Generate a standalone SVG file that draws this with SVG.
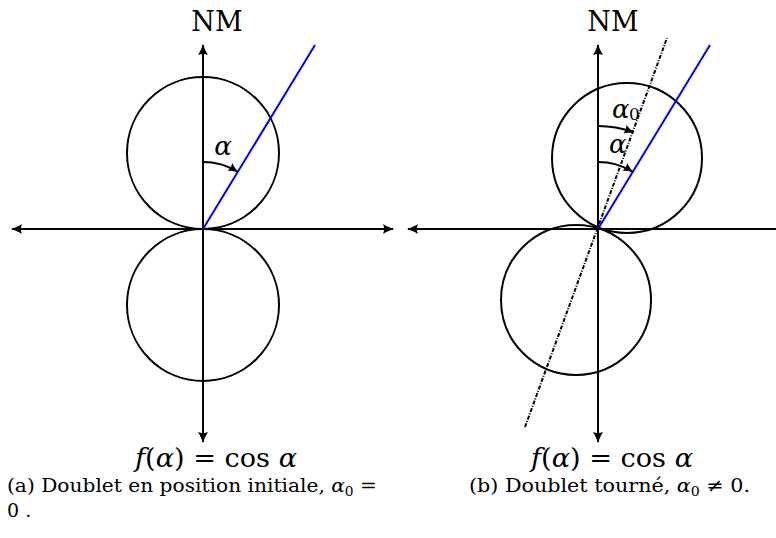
<svg xmlns="http://www.w3.org/2000/svg" width="776" height="538" viewBox="0 0 776 538">
<style>
.ax{stroke:#000;stroke-width:2;fill:none}
.circ{stroke:#000;stroke-width:2;fill:none}
.blue{stroke:#0000ee;stroke-width:2;fill:none}
.dd{stroke:#000;stroke-width:2;fill:none;stroke-dasharray:4 1.5 1 1.5}
.arc{stroke:#000;stroke-width:2;fill:none}
text{font-family:"DejaVu Serif","Liberation Serif",serif;fill:#000}
.it{font-style:italic}
</style>
<defs>
<marker id="ah" viewBox="0 -5 11 10" refX="10" refY="0" markerWidth="11" markerHeight="10" markerUnits="userSpaceOnUse" orient="auto-start-reverse">
<path d="M11,0 C7,-1.2 3,-3 0,-5 C1.5,-2 1.5,2 0,5 C3,3 7,1.2 11,0 Z" fill="#000"/>
</marker>
<marker id="sh" viewBox="0 -4.5 10 9" refX="9" refY="0" markerWidth="10" markerHeight="9" markerUnits="userSpaceOnUse" orient="auto">
<path d="M10,0 C6.5,-1 3,-2.8 0,-4.5 C1.3,-1.5 1.3,1.5 0,4.5 C3,2.8 6.5,1 10,0 Z" fill="#000"/>
</marker>
</defs>

<g id="connectors">
<line class="ax" x1="12" y1="229" x2="393" y2="229" marker-start="url(#ah)" marker-end="url(#ah)"/>
<line class="ax" x1="203" y1="45" x2="203" y2="442" marker-start="url(#ah)" marker-end="url(#ah)"/>
<line class="ax" x1="408" y1="229" x2="786" y2="229" marker-start="url(#ah)" marker-end="url(#ah)"/>
<line class="ax" x1="598" y1="45" x2="598" y2="442" marker-start="url(#ah)" marker-end="url(#ah)"/>
</g>

<g id="left-figure">
<circle class="circ" cx="203" cy="153" r="76"/>
<circle class="circ" cx="203" cy="305" r="76"/>
<line class="blue" x1="203" y1="229" x2="315" y2="45"/>
<path class="arc" d="M203,162 A67,67 0 0 1 237.5,171.6" marker-end="url(#sh)"/>
<text class="it" x="223" y="155" font-size="26" text-anchor="middle">α</text>
<text x="217" y="31" font-size="27" text-anchor="middle">NM</text>
<text x="135" y="467" font-size="26" textLength="162" lengthAdjust="spacingAndGlyphs"><tspan class="it">f</tspan>(<tspan class="it">α</tspan>) = cos <tspan class="it">α</tspan></text>
</g>

<g id="right-figure">
<circle class="circ" cx="627" cy="158" r="75"/>
<circle class="circ" cx="576" cy="300" r="75"/>
<line class="dd" x1="525" y1="427" x2="667" y2="38"/>
<line class="blue" x1="598" y1="229" x2="710" y2="45"/>
<path class="arc" d="M598,126 A103,103 0 0 1 633.2,132.2" marker-end="url(#sh)"/>
<path class="arc" d="M598,162 A67,67 0 0 1 632.5,171.6" marker-end="url(#sh)"/>
<text class="it" x="612" y="118" font-size="26">α</text>
<text x="629" y="120" font-size="17">0</text>
<text class="it" x="609" y="153" font-size="26">α</text>
<text x="613" y="31" font-size="27" text-anchor="middle">NM</text>
<text x="531" y="467" font-size="26" textLength="162" lengthAdjust="spacingAndGlyphs"><tspan class="it">f</tspan>(<tspan class="it">α</tspan>) = cos <tspan class="it">α</tspan></text>
</g>

<g id="captions">
<text x="7" y="492" font-size="19" textLength="370" lengthAdjust="spacingAndGlyphs">(a) Doublet en position initiale, <tspan class="it">α</tspan><tspan font-size="13" dy="4">0</tspan><tspan dy="-4"> =</tspan></text>
<text x="7" y="517" font-size="19">0 .</text>
<text x="469" y="492" font-size="19" textLength="281" lengthAdjust="spacingAndGlyphs">(b) Doublet tourné, <tspan class="it">α</tspan><tspan font-size="13" dy="4">0</tspan><tspan dy="-4"> ≠ 0.</tspan></text>
</g>
</svg>
